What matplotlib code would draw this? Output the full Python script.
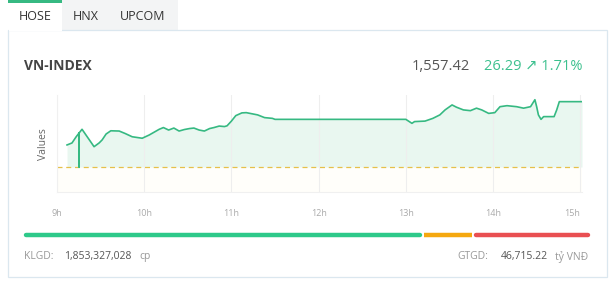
import matplotlib
matplotlib.use("Agg")
import matplotlib.pyplot as plt
from matplotlib.patches import Rectangle

plt.rcParams['font.family'] = ['Open Sans', 'DejaVu Sans']

W, H = 614, 293

# intraday VN-INDEX, time in decimal hours
times = [9.115, 9.172, 9.218, 9.253, 9.253, 9.253, 9.287, 9.356, 9.425, 9.483,
         9.517, 9.563, 9.617, 9.713, 9.782, 9.862, 9.977, 10.057, 10.172, 10.22,
         10.28, 10.34, 10.40, 10.46, 10.52, 10.57, 10.63, 10.69, 10.75, 10.80,
         10.86, 10.92, 10.95, 11.0, 11.05, 11.12, 11.17, 11.30, 11.38, 11.47,
         11.50, 13.0, 13.07, 13.10, 13.22, 13.31, 13.39, 13.45, 13.53, 13.58,
         13.66, 13.74, 13.81, 13.87, 13.95, 14.02, 14.08, 14.16, 14.27, 14.35,
         14.43, 14.48, 14.50, 14.52, 14.55, 14.58, 14.70, 14.73, 14.76, 15.02]
values = [1540.0, 1540.8, 1543.2, 1544.8, 1531.13, 1544.8, 1546.3, 1542.8, 1539.3, 1540.8,
          1542.0, 1544.4, 1545.7, 1545.6, 1544.6, 1543.3, 1542.7, 1544.0, 1546.3, 1547.0,
          1546.0, 1546.8, 1545.6, 1546.2, 1546.6, 1546.8, 1546.0, 1545.6, 1546.6, 1547.0,
          1547.6, 1547.4, 1547.7, 1549.6, 1551.8, 1552.9, 1553.0, 1552.1, 1551.0, 1550.7,
          1550.3, 1550.3, 1548.7, 1549.4, 1549.6, 1550.7, 1552.1, 1554.1, 1556.1, 1555.2,
          1554.1, 1553.8, 1554.8, 1554.1, 1552.7, 1553.0, 1555.4, 1555.8, 1555.4, 1554.8,
          1555.4, 1558.2, 1555.4, 1552.1, 1550.3, 1551.4, 1551.4, 1554.1, 1557.42, 1557.42]
ref_value = 1531.13
hour_ticks = [9, 10, 11, 12, 13, 14, 15]
hour_labels = ["9h", "10h", "11h", "12h", "13h", "14h", "15h"]

tabs = ["HOSE", "HNX", "UPCOM"]
index_name = "VN-INDEX"
last_price = "1,557.42"
change_text = "26.29 \u2197 1.71%"
volume = "1,853,327,028"
turnover = "46,715.22"
# share of bar: up / unchanged / down
breadth = [0.705, 0.09, 0.205]

GREEN = '#36b982'
ORANGE = '#f5a80f'
RED = '#e94f52'


def fx(x):
    return x / W


def fy(y):
    return 1 - y / H


fig = plt.figure(figsize=(W / 100, H / 100), dpi=100)
fig.patch.set_facecolor('white')

# tab bar
fig.patches.append(Rectangle((fx(62), fy(30)), fx(178) - fx(62), fy(0) - fy(30),
                             transform=fig.transFigure, facecolor='#f3f4f5',
                             edgecolor='none', zorder=-10))
fig.patches.append(Rectangle((fx(8), fy(2.5)), fx(62) - fx(8), fy(0) - fy(2.5),
                             transform=fig.transFigure, facecolor=GREEN,
                             edgecolor='none', zorder=-10))
# card
fig.patches.append(Rectangle((fx(8), fy(277)), fx(606.5) - fx(8), fy(30) - fy(277),
                             transform=fig.transFigure, facecolor='white',
                             edgecolor='#dbe7ef', lw=0.9, zorder=-9))
fig.patches.append(Rectangle((fx(8.6), fy(31)), fx(62) - fx(8.6), fy(29) - fy(31),
                             transform=fig.transFigure, facecolor='white',
                             edgecolor='none', zorder=-8))

for name, cx in zip(tabs, [35, 86, 143]):
    fig.text(fx(cx), fy(17), name, ha='center', va='center', fontsize=9, color='#333333')

fig.text(fx(24), fy(66.5), index_name, ha='left', va='center', fontsize=10,
         fontweight='bold', color='#444444')
fig.text(fx(470), fy(67), last_price, ha='right', va='center', fontsize=10.5, color='#555555')
fig.text(fx(583), fy(67), change_text, ha='right', va='center', fontsize=10.5, color='#3cc08e')

# chart
ax = fig.add_axes([fx(57), fy(192), fx(582) - fx(57), fy(95) - fy(192)])
ax.set_xlim(9, 15.02)
ax.set_ylim(1521.07, 1560.1)
ax.fill_between(times, values, ref_value, color='#e9f7f0', lw=0, zorder=1)
ax.axhspan(1521.07, ref_value, color='#fffefa', lw=0, zorder=0)
ax.plot(times, values, color=GREEN, lw=1.2, zorder=3)
ax.axhline(ref_value, color='#e6c04a', lw=0.9, ls=(0, (4, 3)), zorder=2)

ax.set_xticks(hour_ticks)
ax.set_xticklabels(hour_labels)
ax.tick_params(axis='x', length=0, pad=12, labelsize=6.5, labelcolor='#aaaaaa')
ax.set_yticks([])
ax.grid(axis='x', color='#eeeeee', lw=0.8, zorder=0)
for s in ['top', 'right']:
    ax.spines[s].set_visible(False)
for s in ['left', 'bottom']:
    ax.spines[s].set_color('#f0f0f0')
    ax.spines[s].set_linewidth(0.8)
ax.get_xticklabels()[-1].set_horizontalalignment('right')
ax.get_xticklabels()[-1].set_x(15.02)
ax.set_facecolor('none')

fig.text(fx(43), fy(144), "Values", rotation=90, ha='center', va='center',
         fontsize=7.5, color='#666666')

# breadth bar
bar = fig.add_axes([0, 0, 1, 1], facecolor='none')
bar.set_axis_off()
bar.set_xlim(0, W)
bar.set_ylim(H, 0)
x0, x1 = 26, 588
span = x1 - x0
g_end = x0 + breadth[0] * span
o_end = g_end + breadth[1] * span
bar.plot([x0, g_end - 2], [235, 235], color='#2ec98a', lw=3.2, solid_capstyle='round')
bar.plot([g_end + 2, o_end - 1], [235, 235], color=ORANGE, lw=3.2, solid_capstyle='butt')
bar.plot([o_end + 3, x1], [235, 235], color=RED, lw=3.2, solid_capstyle='round')

fs = 7.5
bar.text(24, 256.7, "KLGD:", ha='left', va='center', fontsize=fs, color='#999999')
bar.text(64, 256.7, volume, ha='left', va='center', fontsize=fs, color='#555555')
bar.text(139, 256.7, "cp", ha='left', va='center', fontsize=fs, color='#999999')
bar.text(588, 256.7, "t\u1ef7 VN\u0110", ha='right', va='center', fontsize=fs, color='#999999')
bar.text(548, 256.7, turnover, ha='right', va='center', fontsize=fs, color='#555555')
bar.text(488, 256.7, "GTGD:", ha='right', va='center', fontsize=fs, color='#999999')

fig.savefig("out.png", dpi=100)
